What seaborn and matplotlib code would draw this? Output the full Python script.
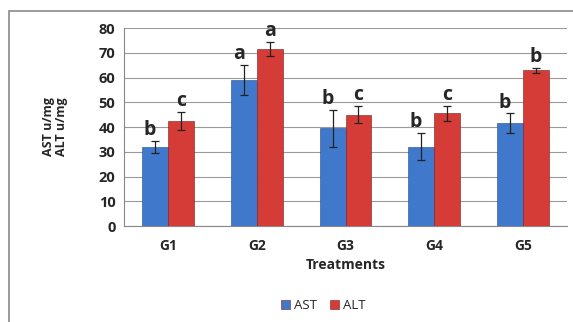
import pandas as pd
import numpy as np
import seaborn as sns
import matplotlib.pyplot as plt
from matplotlib.patches import Rectangle

# Data
groups = ['G1', 'G2', 'G3', 'G4', 'G5']
ast_mean = [32, 59, 39.5, 32, 41.5]
ast_err = [2.5, 6, 7.5, 5.5, 4]
alt_mean = [42.5, 71.5, 45, 45.5, 63]
alt_err = [3.5, 3, 3.5, 3, 1]
ast_letters = ['b', 'a', 'b', 'b', 'b']
alt_letters = ['c', 'a', 'c', 'c', 'b']

sns.set_style("white")
plt.rcParams['font.family'] = ['Open Sans', 'DejaVu Sans']

df = pd.DataFrame({
    'group': groups * 2,
    'enzyme': ['AST'] * 5 + ['ALT'] * 5,
    'value': ast_mean + alt_mean,
})

fig = plt.figure(figsize=(5.73, 3.22), dpi=100)
ax = fig.add_axes([0.216, 0.298, 0.774, 0.615])

palette = {'AST': '#4078cc', 'ALT': '#d53c37'}
sns.barplot(data=df, x='group', y='value', hue='enzyme', palette=palette,
            width=0.58, saturation=1, errorbar=None, ax=ax, zorder=3,
            edgecolor='#7a1c1a', linewidth=0.4)

# Error bars and letters on top of each bar
errs = ast_err + alt_err
letters = ast_letters + alt_letters
for i, bar in enumerate(ax.patches[:10]):
    cx = bar.get_x() + bar.get_width() / 2
    h = bar.get_height()
    ax.errorbar(cx, h, yerr=errs[i], fmt='none', ecolor='#222222',
                elinewidth=0.9, capsize=3, capthick=0.9, zorder=4)
    ax.text(cx - (0.06 if i < 5 else 0.0), h + errs[i] + 0.3, letters[i],
            ha='center', va='bottom', fontsize=14, fontweight='bold')

for bar in ax.patches[:5]:
    bar.set_edgecolor('#1d4a8a')

ax.set_ylim(0, 80)
ax.set_xlim(-0.5, 4.5)
ax.set_yticks(range(0, 81, 10))
ax.yaxis.grid(True, color='#9a9a9a', linewidth=0.8, zorder=0)
ax.tick_params(axis='y', length=0, labelsize=10.5, pad=6)
ax.tick_params(axis='x', length=0, labelsize=10, pad=9)
for lab in ax.get_xticklabels() + ax.get_yticklabels():
    lab.set_fontweight('bold')
ax.set_xticks(np.arange(-0.5, 5, 1), minor=True)
ax.tick_params(axis='x', which='minor', length=4, color='#888888')

for side in ['top', 'right']:
    ax.spines[side].set_visible(False)
ax.spines['left'].set_color('#888888')
ax.spines['bottom'].set_color('#888888')

ax.set_xlabel('Treatments', fontsize=10, fontweight='bold', labelpad=4)
ax.set_ylabel('AST u/mg\nALT u/mg', fontsize=9, fontweight='bold', labelpad=22,
              linespacing=1.0)

ax.legend(loc='center', bbox_to_anchor=(0.45, -0.4), ncol=2, frameon=False,
          fontsize=9.5, handlelength=0.7, handleheight=0.7, handletextpad=0.3,
          columnspacing=1.0)

# Outer chart border
fig.patches.append(Rectangle((9 / 573, -0.05), 1.05, 1 - 11 / 322 + 0.05,
                             transform=fig.transFigure, fill=False,
                             edgecolor='#8a8a8a', linewidth=1.2))

fig.savefig('out.png', dpi=100)
